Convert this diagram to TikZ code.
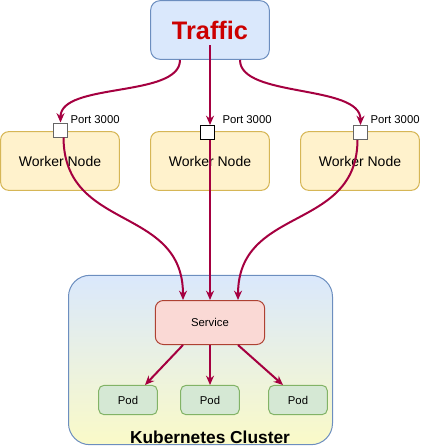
\documentclass[tikz,border=0pt]{standalone}
\usepackage{fontspec}
\setmainfont{Liberation Sans}
\usetikzlibrary{arrows.meta}

\definecolor{trafficfill}{RGB}{218,232,252}
\definecolor{trafficline}{RGB}{108,142,191}
\definecolor{trafficred}{RGB}{204,0,0}
\definecolor{workerfill}{RGB}{255,242,204}
\definecolor{workerline}{RGB}{214,182,86}
\definecolor{servicefill}{RGB}{250,217,213}
\definecolor{serviceline}{RGB}{174,65,50}
\definecolor{podfill}{RGB}{213,232,212}
\definecolor{podline}{RGB}{130,179,102}
\definecolor{clusterbottom}{RGB}{250,250,200}
\definecolor{flow}{RGB}{165,0,64}
\definecolor{portgray}{RGB}{102,102,102}

\tikzset{every picture/.style={line width=0.75pt}}
\tikzset{
  trafficbox/.style={draw=trafficline, fill=trafficfill, rounded corners=7pt,
    minimum width=89pt, minimum height=44pt, inner sep=0pt},
  workerbox/.style={draw=workerline, fill=workerfill, rounded corners=6pt,
    minimum width=89pt, minimum height=44pt, inner sep=0pt, font=\fontsize{10.5}{12}\selectfont},
  servicebox/.style={draw=serviceline, fill=servicefill, rounded corners=6pt,
    minimum width=82pt, minimum height=33pt, inner sep=0pt, font=\fontsize{8.5}{10}\selectfont},
  podbox/.style={draw=podline, fill=podfill, rounded corners=4pt,
    minimum width=44pt, minimum height=22pt, inner sep=0pt, font=\fontsize{8.5}{10}\selectfont},
  portbox/.style={draw=#1, fill=white, minimum size=10.5pt, inner sep=0pt},
  portlabel/.style={anchor=west, inner sep=0pt, font=\fontsize{8.5}{10}\selectfont},
  flowarrow/.style={draw=flow, line width=1.5pt, -{Stealth[length=7pt,width=6pt]}},
}

\begin{document}
\begin{tikzpicture}[x=0.75pt,y=0.75pt,yscale=-1,xscale=1]
\useasboundingbox (0,0) rectangle (439,446);

%Cluster
\node (cluster) [draw=trafficline, top color=trafficfill, bottom color=clusterbottom,
  rounded corners=16pt, minimum width=198pt, minimum height=127pt] at (200.5,360) {};
\node (clusterlabel) [font=\bfseries\fontsize{13}{15}\selectfont] at (210,437) {Kubernetes Cluster};

%Traffic
\node (traffic) [trafficbox] at (210,30) {\textcolor{trafficred}{\bfseries\fontsize{19}{22}\selectfont Traffic}};
\coordinate (tleft) at (180,60);
\coordinate (tmid) at (210,45);
\coordinate (tright) at (240,60);

%Worker nodes
\node (workera) [workerbox] at (60,161) {Worker Node};
\node (workerb) [workerbox] at (210,161) {Worker Node};
\node (workerc) [workerbox] at (360,161) {Worker Node};

%Ports
\node (porta) [portbox=portgray] at (60.5,130) {};
\node (portb) [portbox=black] at (207.5,132.5) {};
\node (portc) [portbox=portgray] at (360.5,132.5) {};
\node (porta label) [portlabel] at (70,120) {Port 3000};
\node (portb label) [portlabel] at (222,120) {Port 3000};
\node (portc label) [portlabel] at (370,120) {Port 3000};

%Service and pods
\node (service) [servicebox] at (210,322.5) {Service};
\node (poda) [podbox] at (128,400) {Pod};
\node (podb) [podbox] at (210,400) {Pod};
\node (podc) [podbox] at (298,400) {Pod};
\coordinate (sina) at (183,300);
\coordinate (sinb) at (210,300);
\coordinate (sinc) at (238,300);
\coordinate (souta) at (183,345);
\coordinate (soutb) at (210,345);
\coordinate (soutc) at (238,345);
\coordinate (pina) at (145,385);
\coordinate (pinb) at (210,385);
\coordinate (pinc) at (283,385);

%Curve Lines: traffic to ports
\draw [flowarrow] (tleft) .. controls (180,98) and (60.5,82) .. (porta.north);
\draw [flowarrow] (tmid) -- (portb.north -| tmid);
\draw [flowarrow] (tright) .. controls (240,98) and (360.5,84) .. (portc.north);

%Curve Lines: ports to service
\draw [flowarrow] (porta.south) ++(3,0) .. controls (64,232) and (183,205) .. (sina);
\draw [flowarrow] (portb.south -| tmid) -- (sinb);
\draw [flowarrow] (portc.south) ++(-3,0) .. controls (357,232) and (238,205) .. (sinc);

%Straight Lines: service to pods
\draw [flowarrow] (souta) -- (pina);
\draw [flowarrow] (soutb) -- (pinb);
\draw [flowarrow] (soutc) -- (pinc);

\end{tikzpicture}
\end{document}
